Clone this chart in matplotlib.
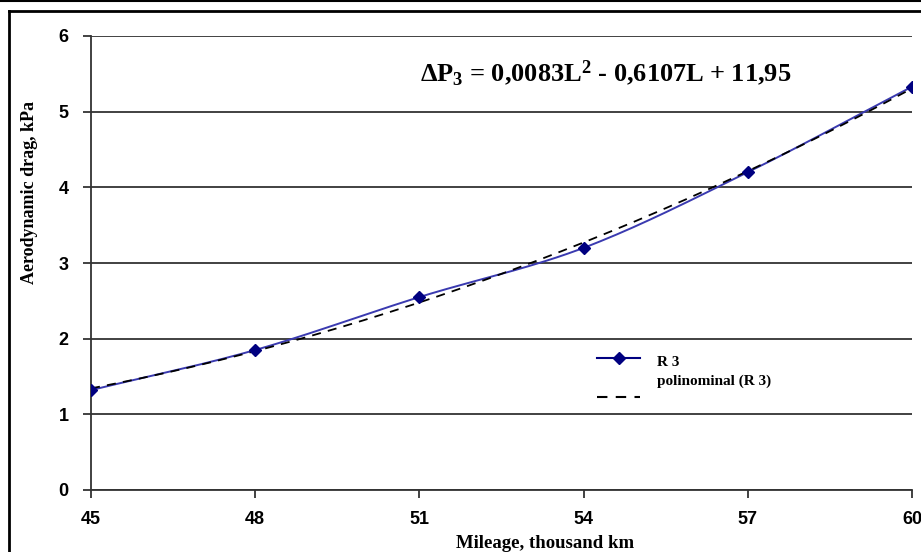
import numpy as np
import matplotlib
matplotlib.use("Agg")
import matplotlib.pyplot as plt
from matplotlib.lines import Line2D
from matplotlib import font_manager

# ---- data ----
mileage = [45, 48, 51, 54, 57, 60]
drag_r3 = [1.32, 1.85, 2.55, 3.20, 4.20, 5.33]
x_ticks = [45, 48, 51, 54, 57, 60]
y_ticks = [0, 1, 2, 3, 4, 5, 6]
series_label = "R 3"
trend_label = "polinominal (R 3)"
equation = "ΔP$_3$ = 0,0083L$^2$ - 0,6107L + 11,95"
x_title = "Mileage, thousand km"
y_title = "Aerodynamic drag, kPa"

names = {f.name for f in font_manager.fontManager.ttflist}
narrow = "Liberation Sans Narrow" if "Liberation Sans Narrow" in names else "Liberation Sans"
serif = "Liberation Serif"

plt.rcParams["mathtext.fontset"] = "custom"
plt.rcParams["mathtext.rm"] = "Liberation Serif:bold"
plt.rcParams["mathtext.it"] = "Liberation Serif:bold"
plt.rcParams["mathtext.bf"] = "Liberation Serif:bold"
plt.rcParams["mathtext.default"] = "rm"

W, H = 921, 552
fig = plt.figure(figsize=(W / 100, H / 100), dpi=100)
L, R, T, B = 91, 912, 36, 490
ax = fig.add_axes([L / W, 1 - B / H, (R - L) / W, (B - T) / H])

# smooth (Catmull-Rom) curve through the data, like Excel's smoothed line
def catmull(xs, ys, n=30):
    xs = np.asarray(xs, float); ys = np.asarray(ys, float)
    px = np.concatenate([[2 * xs[0] - xs[1]], xs, [2 * xs[-1] - xs[-2]]])
    py = np.concatenate([[2 * ys[0] - ys[1]], ys, [2 * ys[-1] - ys[-2]]])
    ox, oy = [], []
    for i in range(1, len(px) - 2):
        t = np.linspace(0, 1, n, endpoint=False)
        for p, o in ((px, ox), (py, oy)):
            p0, p1, p2, p3 = p[i - 1], p[i], p[i + 1], p[i + 2]
            o.extend(0.5 * ((2 * p1) + (-p0 + p2) * t + (2 * p0 - 5 * p1 + 4 * p2 - p3) * t ** 2
                            + (-p0 + 3 * p1 - 3 * p2 + p3) * t ** 3))
    ox.append(xs[-1]); oy.append(ys[-1])
    return np.array(ox), np.array(oy)

sx, sy = catmull(mileage, drag_r3)
ax.plot(sx, sy, color="#3a3ab0", lw=1.4, zorder=3)
ax.plot(mileage, drag_r3, ls="none", marker="D", ms=6, color="#000080", zorder=4)

coef = np.polyfit(mileage, drag_r3, 2)
tx = np.linspace(mileage[0], mileage[-1], 200)
ax.plot(tx, np.polyval(coef, tx), color="black", lw=1.3, ls=(0, (5, 4)), zorder=3)

ax.set_xlim(45, 60)
ax.set_ylim(0, 6)
ax.set_xticks(x_ticks)
ax.set_yticks(y_ticks)
ax.grid(axis="y", color="#333333", lw=1.3)
ax.set_axisbelow(True)
for s in ("top", "right"):
    ax.spines[s].set_visible(False)
ax.spines["left"].set_color("#333333")
ax.spines["bottom"].set_color("#333333")
ax.spines["left"].set_linewidth(1.3)
ax.spines["bottom"].set_linewidth(1.3)
ax.tick_params(axis="both", direction="out", length=6, width=1.3, color="#333333")
ax.tick_params(axis="y", pad=10)
ax.tick_params(axis="x", pad=9)
for lab in ax.get_xticklabels() + ax.get_yticklabels():
    lab.set_fontfamily(narrow)
    lab.set_fontweight("bold")
    lab.set_fontsize(13)

fig.text(545 / W, 1 - 544 / H, x_title, family=serif, weight="bold", fontsize=13.5,
         ha="center", va="center")
fig.text(29 / W, 1 - 192 / H, y_title, family=serif, weight="bold", fontsize=13,
         ha="center", va="center", rotation=90)

fig.text(606 / W, 1 - 73 / H, equation, family=serif, weight="bold", fontsize=19,
         ha="center", va="center")

# legend
fig.add_artist(Line2D([597 / W, 618.5 / W, 640 / W], [1 - 358 / H] * 3, color="#000080", lw=1.5,
                      marker="D", markevery=[1], ms=6))
fig.add_artist(Line2D([597 / W, 640 / W], [1 - 397 / H] * 2, color="black", lw=1.5,
                      ls=(0, (5, 4))))
fig.text(657 / W, 1 - 362 / H, series_label, family=serif, weight="bold", fontsize=11,
         ha="left", va="center")
fig.text(657 / W, 1 - 381 / H, trend_label, family=serif, weight="bold", fontsize=11,
         ha="left", va="center")

# outer frame lines
fig.add_artist(Line2D([0, 1], [1 - 1 / H] * 2, color="black", lw=1.5))
fig.add_artist(Line2D([9 / W, 1], [1 - 11 / H] * 2, color="black", lw=2))
fig.add_artist(Line2D([9 / W, 9 / W], [0, 1 - 11 / H], color="black", lw=2))

fig.savefig("out.png", dpi=100)
